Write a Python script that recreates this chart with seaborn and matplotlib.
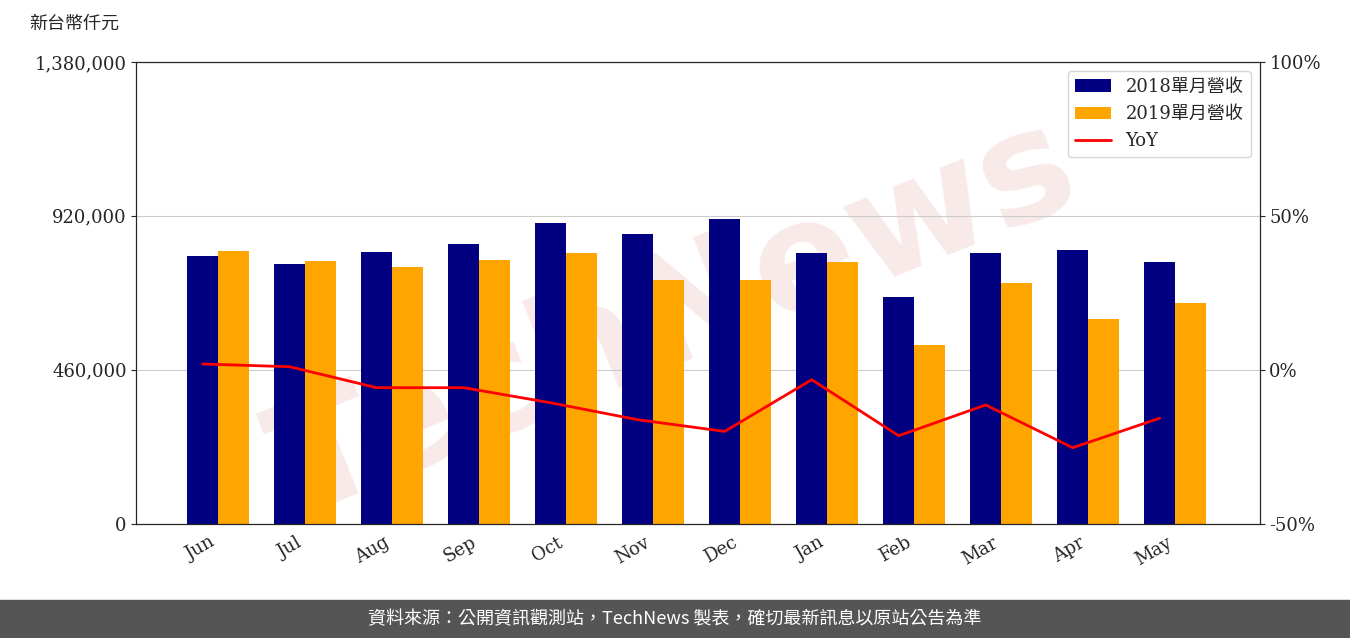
import matplotlib
matplotlib.use("Agg")
import matplotlib.pyplot as plt
import seaborn as sns
import pandas as pd
import numpy as np

months = ["Jun","Jul","Aug","Sep","Oct","Nov","Dec","Jan","Feb","Mar","Apr","May"]
rev2018 = [800000,777000,812000,836000,899000,866000,911000,809000,678000,809000,818000,783000]
rev2019 = [815000,786000,768000,789000,809000,729000,729000,783000,535000,720000,612000,660000]
yoy = [1.9,1.0,-5.8,-5.8,-10.7,-16.2,-20.0,-3.2,-21.4,-11.4,-25.3,-15.7]

sns.set_style("white")
plt.rcParams['font.family'] = ['DejaVu Serif', 'Noto Sans CJK TC']

df = pd.DataFrame({"month": months*2, "rev": rev2018+rev2019,
                   "series": ["2018單月營收"]*12 + ["2019單月營收"]*12})

BAR_W = 0.71
fig = plt.figure(figsize=(13.5, 6.38), dpi=100)
ax = fig.add_axes([0.101, 0.179, 0.832, 0.724])
ax.text(0.5, 0.5, "TechNews", fontsize=110, color="#f2d0d0", alpha=0.45, rotation=22,
        ha="center", va="center", fontweight="bold", family="DejaVu Sans", zorder=0.5,
        transform=fig.transFigure)
sns.barplot(data=df, x="month", y="rev", hue="series", palette=["#000080", "#FFA500"],
            width=BAR_W, ax=ax, saturation=1, legend=True, linewidth=0, zorder=2)
ax.set_ylim(0, 1380000)
ax.set_yticks([0, 460000, 920000, 1380000])
ax.set_yticklabels(["0", "460,000", "920,000", "1,380,000"], fontsize=13)
ax.yaxis.grid(True, color="#cccccc", zorder=0)
ax.set_axisbelow(True)
ax.set_xlabel(""); ax.set_ylabel("")
ax.set_xlim(-0.94, 11.97)
plt.setp(ax.get_xticklabels(), rotation=30, ha="right", fontsize=13)
for s in ax.spines.values():
    s.set_color("black")

ax2 = ax.twinx()
ax2.plot(np.arange(12) - BAR_W / 4, yoy, color="red", lw=2, label="YoY")
ax2.set_ylim(-50, 100)
ax2.set_yticks([-50, 0, 50, 100])
ax2.set_yticklabels(["-50%", "0%", "50%", "100%"], fontsize=13)

h1, l1 = ax.get_legend_handles_labels()
h2, l2 = ax2.get_legend_handles_labels()
ax.get_legend().remove()
ax2.legend(h1+h2, l1+l2, loc="upper right", fontsize=13, frameon=True)

fig.text(0.022, 0.955, "新台幣仟元", fontsize=13, family=['Noto Sans CJK TC'])
fig.patches.append(matplotlib.patches.Rectangle((0, 0), 1, 0.06, transform=fig.transFigure,
                                                 color="#555555", zorder=-1))
fig.text(0.5, 0.03, "資料來源：公開資訊觀測站，TechNews 製表，確切最新訊息以原站公告為準",
         color="white", fontsize=13, ha="center", va="center", family=['Noto Sans CJK TC'])
fig.savefig("out.png", dpi=100)
